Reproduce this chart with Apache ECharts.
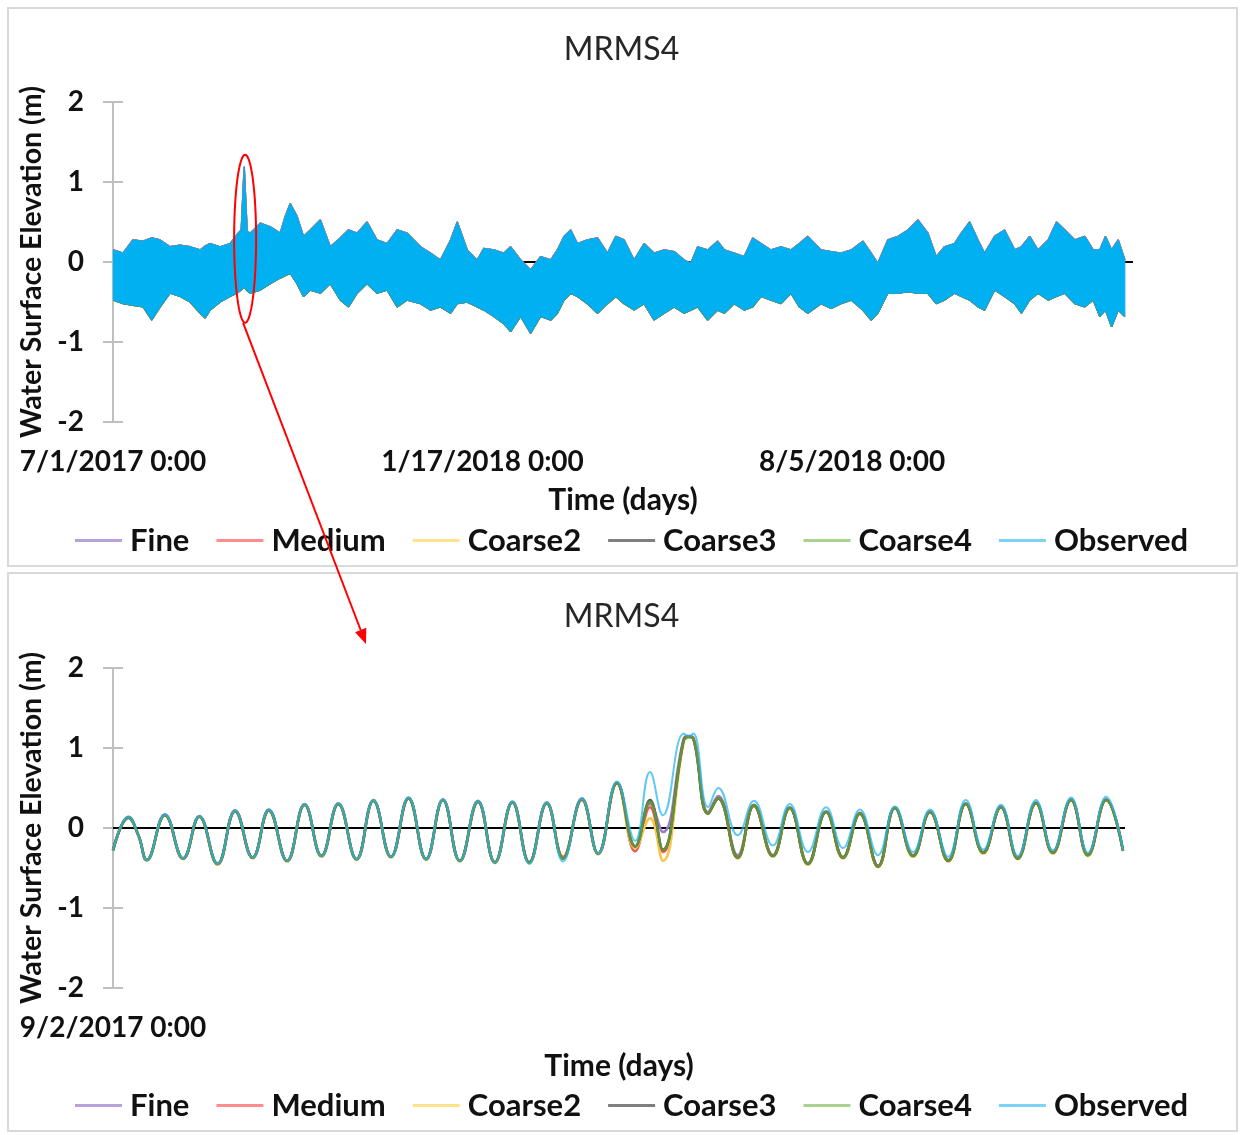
<!DOCTYPE html>
<html><head><meta charset="utf-8">
<script src="https://cdn.jsdelivr.net/npm/echarts@6/dist/echarts.min.js"></script>
<style>html,body{margin:0;padding:0;background:#fff}#c{width:1243px;height:1135px}</style>
</head><body><div id="c"></div>
<script>
// ---------- DATA ----------
const seriesNames = ['Fine', 'Medium', 'Coarse2', 'Coarse3', 'Coarse4', 'Observed'];
const titleText = 'MRMS4';
const xAxisTitle = 'Time (days)';
const yAxisTitle = 'Water Surface Elevation (m)';
// tick labels (x in days from the start date of each panel)
const fullTickLabels = { 0: '7/1/2017 0:00', 200: '1/17/2018 0:00', 400: '8/5/2018 0:00' };
const zoomTickLabels = { 0: '9/2/2017 0:00' };

// Top panel: envelope (high / low water) of the dense tidal record, days since 7/1/2017
const fullDays = [0.2,5.4,10.8,16.3,21.0,25.5,30.9,36.3,41.7,47.2,
  49.9,52.6,58.0,63.4,67.0,69.4,71.0,72.6,74.3,79.7,
  85.1,90.5,93.2,95.9,99.6,103.1,106.8,112.2,117.6,123.0,
  127.4,132.1,137.5,142.9,148.3,153.8,159.2,166.4,171.8,177.2,
  182.7,186.3,191.7,197.1,200.7,206.1,211.5,215.2,220.6,226.0,
  231.4,236.9,240.5,244.1,247.7,251.3,256.7,262.2,267.6,272.1,
  276.6,282.0,287.4,292.8,298.3,303.7,309.1,312.7,316.4,321.8,
  327.2,330.8,336.2,341.6,346.2,350.7,356.1,361.5,366.9,371.4,
  376.0,383.2,388.6,394.0,399.5,405.8,410.3,413.9,419.3,424.8,
  430.2,435.6,441.0,445.5,450.0,455.4,459.1,463.6,468.1,471.7,
  477.1,482.5,488.0,491.6,496.1,500.6,506.1,510.6,515.1,520.5,
  525.9,530.5,534.0,537.1,540.4,544.0,547.6];
const fullUpper = [0.15,0.11,0.275,0.26,0.30,0.275,0.19,0.21,0.19,0.15,
  0.20,0.23,0.19,0.23,0.34,0.40,1.19,0.38,0.36,0.485,
  0.44,0.36,0.57,0.73,0.57,0.32,0.40,0.525,0.19,0.30,
  0.40,0.36,0.50,0.275,0.23,0.40,0.36,0.19,0.11,0.025,
  0.275,0.50,0.15,0.025,0.17,0.15,0.11,0.19,0.025,-0.10,
  0.067,0.025,0.15,0.32,0.40,0.23,0.275,0.30,0.11,0.32,
  0.275,0.025,0.23,0.11,0.15,0.13,0.025,-0.017,0.19,0.15,
  0.26,0.15,0.11,0.067,0.30,0.23,0.15,0.19,0.15,0.23,
  0.32,0.15,0.13,0.11,0.15,0.26,0.11,-0.017,0.275,0.32,
  0.40,0.525,0.36,0.067,0.19,0.23,0.36,0.50,0.275,0.11,
  0.32,0.40,0.15,0.19,0.32,0.15,0.275,0.50,0.40,0.275,
  0.32,0.15,0.15,0.32,0.15,0.275,0.025];
const fullLower = [-0.475,-0.52,-0.54,-0.56,-0.725,-0.56,-0.39,-0.43,-0.50,-0.64,
  -0.70,-0.60,-0.50,-0.43,-0.39,-0.35,-0.31,-0.36,-0.39,-0.35,
  -0.27,-0.20,-0.17,-0.14,-0.27,-0.43,-0.35,-0.39,-0.27,-0.475,
  -0.56,-0.39,-0.27,-0.39,-0.35,-0.56,-0.475,-0.52,-0.60,-0.56,
  -0.64,-0.52,-0.50,-0.56,-0.60,-0.68,-0.77,-0.87,-0.68,-0.89,
  -0.68,-0.725,-0.64,-0.475,-0.39,-0.43,-0.52,-0.64,-0.52,-0.43,
  -0.52,-0.60,-0.52,-0.725,-0.64,-0.56,-0.64,-0.60,-0.56,-0.725,
  -0.60,-0.64,-0.52,-0.60,-0.56,-0.43,-0.475,-0.52,-0.39,-0.56,
  -0.64,-0.52,-0.58,-0.52,-0.475,-0.60,-0.725,-0.64,-0.39,-0.39,
  -0.37,-0.39,-0.39,-0.52,-0.475,-0.39,-0.43,-0.475,-0.56,-0.60,
  -0.35,-0.43,-0.52,-0.64,-0.475,-0.39,-0.475,-0.43,-0.39,-0.52,
  -0.56,-0.475,-0.68,-0.60,-0.81,-0.60,-0.68];

// Bottom panel: tidal highs and lows, days since 9/2/2017
const zoomDays = [0.00,0.23,0.38,0.50,0.77,1.04,1.28,1.55,1.81,2.07,
  2.31,2.58,2.84,3.09,3.34,3.61,3.86,4.12,4.38,4.64,
  4.89,5.14,5.41,5.66,5.92,6.17,6.43,6.67,6.95,7.19,
  7.47,7.74,7.96,8.15,8.46,8.53,8.60,8.82,8.97,9.26,
  9.50,9.78,10.03,10.30,10.57,10.82,11.07,11.34,11.59,11.86,
  12.11,12.38,12.64,12.90,13.16,13.41,13.68,13.93,14.20,14.45,
  14.72,14.97];
const fineZoom = [-0.28,0.14,-0.10,-0.40,0.17,-0.38,0.15,-0.45,0.22,-0.37,
  0.23,-0.41,0.30,-0.35,0.31,-0.39,0.35,-0.36,0.38,-0.39,
  0.36,-0.41,0.34,-0.43,0.33,-0.43,0.32,-0.38,0.37,-0.32,
  0.57,-0.24,0.30,-0.05,1.12,1.15,1.13,0.20,0.40,-0.34,
  0.29,-0.34,0.26,-0.44,0.21,-0.36,0.19,-0.47,0.26,-0.34,
  0.21,-0.40,0.31,-0.30,0.27,-0.37,0.32,-0.30,0.36,-0.33,
  0.36,-0.28];
const mediumZoom = [-0.28,0.13,-0.10,-0.40,0.16,-0.38,0.14,-0.45,0.21,-0.37,
  0.22,-0.41,0.29,-0.35,0.30,-0.39,0.34,-0.36,0.37,-0.39,
  0.35,-0.41,0.33,-0.43,0.32,-0.43,0.31,-0.36,0.35,-0.32,
  0.56,-0.29,0.26,-0.30,1.10,1.13,1.12,0.18,0.37,-0.37,
  0.28,-0.35,0.25,-0.45,0.20,-0.37,0.18,-0.48,0.25,-0.35,
  0.20,-0.41,0.30,-0.31,0.26,-0.38,0.31,-0.31,0.35,-0.34,
  0.35,-0.28];
const coarse2Zoom = [-0.29,0.13,-0.11,-0.41,0.16,-0.39,0.14,-0.46,0.21,-0.38,
  0.22,-0.42,0.29,-0.36,0.30,-0.40,0.34,-0.37,0.37,-0.40,
  0.35,-0.42,0.33,-0.44,0.32,-0.44,0.31,-0.38,0.36,-0.33,
  0.56,-0.25,0.12,-0.41,1.08,1.13,1.12,0.18,0.37,-0.38,
  0.28,-0.36,0.25,-0.46,0.20,-0.38,0.18,-0.49,0.25,-0.36,
  0.20,-0.42,0.30,-0.32,0.26,-0.39,0.31,-0.32,0.35,-0.35,
  0.35,-0.29];
const coarse3Zoom = [-0.28,0.13,-0.10,-0.40,0.16,-0.38,0.14,-0.45,0.21,-0.37,
  0.22,-0.41,0.29,-0.35,0.30,-0.39,0.34,-0.36,0.37,-0.39,
  0.35,-0.41,0.33,-0.43,0.32,-0.43,0.31,-0.38,0.36,-0.32,
  0.56,-0.23,0.35,-0.27,1.10,1.14,1.12,0.18,0.37,-0.37,
  0.28,-0.35,0.25,-0.45,0.20,-0.37,0.18,-0.48,0.25,-0.35,
  0.20,-0.41,0.30,-0.31,0.26,-0.38,0.31,-0.31,0.35,-0.34,
  0.35,-0.28];
const coarse4Zoom = [-0.28,0.13,-0.10,-0.40,0.16,-0.38,0.14,-0.45,0.21,-0.37,
  0.22,-0.41,0.29,-0.35,0.30,-0.39,0.34,-0.36,0.37,-0.39,
  0.35,-0.41,0.33,-0.43,0.32,-0.43,0.31,-0.38,0.36,-0.32,
  0.56,-0.23,0.33,-0.27,1.10,1.14,1.12,0.18,0.37,-0.37,
  0.28,-0.35,0.25,-0.45,0.20,-0.37,0.18,-0.48,0.25,-0.35,
  0.20,-0.41,0.30,-0.31,0.26,-0.38,0.31,-0.31,0.35,-0.34,
  0.35,-0.28];
const observedZoom = [-0.28,0.14,-0.10,-0.40,0.17,-0.38,0.15,-0.45,0.22,-0.37,
  0.23,-0.41,0.30,-0.35,0.31,-0.39,0.35,-0.36,0.38,-0.39,
  0.36,-0.41,0.34,-0.43,0.33,-0.45,0.32,-0.42,0.37,-0.32,
  0.58,-0.16,0.70,0.16,1.18,1.15,1.18,0.26,0.50,-0.09,
  0.34,-0.22,0.30,-0.30,0.26,-0.25,0.23,-0.34,0.27,-0.30,
  0.23,-0.36,0.35,-0.27,0.29,-0.35,0.35,-0.28,0.38,-0.31,
  0.39,-0.28];
const zoomValues = [fineZoom, mediumZoom, coarse2Zoom, coarse3Zoom, coarse4Zoom, observedZoom];

// ---------- STYLE ----------
const FONT = 'Lato, "Liberation Sans", sans-serif';
const lineColors = ['#9A7CC6', '#EE5A55', '#F7C548', '#505050', '#66903C', '#1EB5EE'];
const legendColors = ['#B7A3DB', '#FF8D8D', '#FFE38A', '#7F7F7F', '#AAD18F', '#7DD3F5'];
const BAND = '#00B0F0';
const TXT = '#111';

const chart = echarts.init(document.getElementById('c'), null, { renderer: 'canvas' });

function xAxisFor(grid, max, labels) {
  return {
    gridIndex: grid, type: 'value', min: 0, max: max, interval: max > 100 ? 200 : 15,
    axisLine: { show: false }, axisTick: { show: false }, splitLine: { show: false },
    axisLabel: { margin: 26, fontFamily: FONT, fontWeight: 'bold', fontSize: 28, color: TXT,
      formatter: v => labels[v] || '', showMaxLabel: false },
    name: xAxisTitle, nameLocation: 'middle', nameGap: 63,
    nameTextStyle: { fontFamily: FONT, fontWeight: 'bold', fontSize: 30, color: TXT }
  };
}
function yAxesFor(grid) {
  return [{
    gridIndex: grid, type: 'value', position: 'left', min: -2, max: 2, interval: 1,
    axisLine: { show: true, onZero: false, lineStyle: { color: '#BFBFBF', width: 2 } },
    axisTick: { show: true, length: 10, lineStyle: { color: '#BFBFBF', width: 2 } },
    splitLine: { show: false },
    axisLabel: { margin: 29, fontFamily: FONT, fontWeight: 'bold', fontSize: 28, color: TXT },
    name: yAxisTitle, nameLocation: 'middle', nameGap: 66, nameRotate: 90,
    nameTextStyle: { fontFamily: FONT, fontWeight: 'bold', fontSize: 28.5, color: TXT }
  }, {
    gridIndex: grid, type: 'value', position: 'left', min: -2, max: 2, interval: 1,
    axisLine: { show: false },
    axisTick: { show: true, inside: true, length: 10, lineStyle: { color: '#BFBFBF', width: 2 } },
    splitLine: { show: false }, axisLabel: { show: false }
  }];
}
function legendFor(top) {
  return {
    top: top, left: 75, padding: 0, icon: 'rect', itemWidth: 47, itemHeight: 3, itemGap: 27,
    selectedMode: false,
    data: seriesNames.map((n, i) => ({ name: n, itemStyle: { color: legendColors[i] } })),
    textStyle: { fontFamily: FONT, fontWeight: 'bold', fontSize: 31, color: TXT, padding: [0, 0, 0, 3] }
  };
}
const zeroLine = {
  silent: true, z: 1, symbol: ['none', 'none'], label: { show: false },
  lineStyle: { color: '#000', width: 2, type: 'solid' }, data: [{ yAxis: 0 }], animation: false
};

const series = [];
// top panel: model series traced along the envelope edges (mostly hidden under Observed)
const edgeOrder = [[0, fullLower], [1, fullLower], [2, fullLower], [3, fullLower], [4, fullLower],
                   [4, fullUpper], [3, fullUpper], [2, fullUpper], [1, fullUpper], [0, fullUpper]];
edgeOrder.forEach(([k, env], j) => {
  series.push({
    name: seriesNames[k], type: 'line', xAxisIndex: 0, yAxisIndex: 0, symbol: 'none', z: 2,
    data: fullDays.map((d, i) => [d, env[i]]),
    lineStyle: { color: lineColors[k], width: 1.4 }, itemStyle: { color: lineColors[k] },
    markLine: j === 0 ? zeroLine : undefined
  });
});
// top panel: observed band
series.push({
  name: 'Observed', type: 'custom', xAxisIndex: 0, yAxisIndex: 0, data: [[0, 0]], z: 3,
  itemStyle: { color: BAND }, silent: true,
  renderItem: function (params, api) {
    const pts = [];
    for (let i = 0; i < fullDays.length; i++) pts.push(api.coord([fullDays[i], fullUpper[i]]));
    for (let i = fullDays.length - 1; i >= 0; i--) pts.push(api.coord([fullDays[i], fullLower[i]]));
    return { type: 'polygon', shape: { points: pts }, style: { fill: BAND, stroke: BAND, lineWidth: 1 } };
  }
});
// bottom panel
zoomValues.forEach((vals, k) => {
  series.push({
    name: seriesNames[k], type: 'line', xAxisIndex: 1, yAxisIndex: 2, symbol: 'none',
    smooth: 0.45, z: 2,
    data: zoomDays.map((d, i) => [d, vals[i]]),
    lineStyle: { color: lineColors[k], width: k === 5 ? 2 : 2.6, opacity: k === 5 ? 0.72 : 1 },
    itemStyle: { color: lineColors[k] },
    markLine: k === 0 ? zeroLine : undefined
  });
});

chart.setOption({
  animation: false,
  backgroundColor: '#fff',
  title: [
    { text: titleText, left: 'center', top: 34, padding: 0, textStyle: { fontFamily: FONT, fontWeight: 'normal', fontSize: 32, color: '#262626' } },
    { text: titleText, left: 'center', top: 601, padding: 0, textStyle: { fontFamily: FONT, fontWeight: 'normal', fontSize: 32, color: '#262626' } }
  ],
  grid: [
    { left: 113, top: 102, width: 1020, height: 320 },
    { left: 113, top: 668, width: 1012, height: 320 }
  ],
  xAxis: [xAxisFor(0, 552, fullTickLabels), xAxisFor(1, 15, zoomTickLabels)],
  yAxis: yAxesFor(0).concat(yAxesFor(1)),
  legend: [legendFor(525), legendFor(1090)],
  series: series
});

// ---------- annotations (panel borders, red ellipse & arrow) ----------
const c = chart.convertToPixel({ gridIndex: 0 }, [71.5, 0.29]);
const rx = 11, ry = 84;
const ell = [];
for (let a = 0; a < 64; a++) {
  const t = a / 64 * Math.PI * 2;
  ell.push([c[0] + rx * Math.cos(t), c[1] + ry * Math.sin(t)]);
}
const start = [c[0] - 2, c[1] + ry];
const tip = [366, 644];
const dx = tip[0] - start[0], dy = tip[1] - start[1];
const L = Math.sqrt(dx * dx + dy * dy), ux = dx / L, uy = dy / L;
const hl = 15, hw = 6;
const base = [tip[0] - ux * hl, tip[1] - uy * hl];
chart.setOption({
  graphic: [
    { type: 'rect', z: -1, shape: { x: 8, y: 8, width: 1229, height: 558 }, style: { fill: 'none', stroke: '#D9D9D9', lineWidth: 2 } },
    { type: 'rect', z: -1, shape: { x: 8, y: 573, width: 1229, height: 558 }, style: { fill: 'none', stroke: '#D9D9D9', lineWidth: 2 } },
    { type: 'polygon', z: 100, shape: { points: ell }, style: { fill: 'none', stroke: '#FF0000', lineWidth: 2 } },
    { type: 'line', z: 100, shape: { x1: start[0], y1: start[1], x2: base[0], y2: base[1] }, style: { stroke: '#FF0000', lineWidth: 2 } },
    { type: 'polygon', z: 100, shape: { points: [tip, [base[0] - uy * hw, base[1] + ux * hw], [base[0] + uy * hw, base[1] - ux * hw]] }, style: { fill: '#FF0000' } }
  ]
});
</script></body></html>
